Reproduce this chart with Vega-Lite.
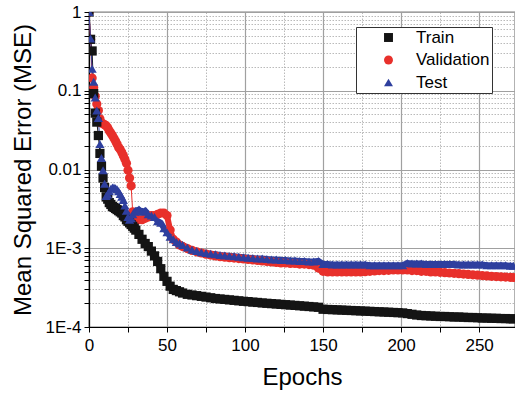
{
  "$schema": "https://vega.github.io/schema/vega-lite/v6.json",
  "width": 426,
  "height": 315,
  "autosize": {"type": "none"},
  "padding": {"left": 89, "top": 12, "right": 0, "bottom": 69},
  "background": "white",
  "config": {
    "font": "Liberation Sans",
    "view": {"stroke": "#000000", "strokeWidth": 1.2},
    "axis": {"labelFont": "Liberation Sans", "titleFont": "Liberation Sans", "labelColor": "#000000", "titleColor": "#000000", "titleFontWeight": "normal", "domainColor": "#000000", "domainWidth": 1.2, "tickColor": "#000000", "tickWidth": 1}
  },
  "data": {"values": [
    {"e":0,"Train":1,"Validation":1,"Test":1},
    {"e":1,"Train":0.45,"Validation":0.45,"Test":0.46},
    {"e":2,"Train":0.32,"Validation":0.145,"Test":0.19},
    {"e":3,"Train":0.092,"Validation":0.11,"Test":0.13},
    {"e":4,"Train":0.052,"Validation":0.085,"Test":0.082},
    {"e":5,"Train":0.04,"Validation":0.068,"Test":0.056},
    {"e":6,"Train":0.027,"Validation":0.056,"Test":0.045},
    {"e":7,"Train":0.016,"Validation":0.044,"Test":0.021},
    {"e":8,"Train":0.011,"Validation":0.039,"Test":0.014},
    {"e":9,"Train":0.0078,"Validation":0.038,"Test":0.0098},
    {"e":10,"Train":0.0059,"Validation":0.037,"Test":0.0066},
    {"e":11,"Train":0.0045,"Validation":0.036,"Test":0.0046},
    {"e":12,"Train":0.0042,"Validation":0.034,"Test":0.0048},
    {"e":13,"Train":0.0038,"Validation":0.031,"Test":0.0053},
    {"e":14,"Train":0.0036,"Validation":0.029,"Test":0.0057},
    {"e":15,"Train":0.0034,"Validation":0.027,"Test":0.0059},
    {"e":16,"Train":0.0033,"Validation":0.025,"Test":0.0059},
    {"e":17,"Train":0.0032,"Validation":0.023,"Test":0.0058},
    {"e":18,"Train":0.0031,"Validation":0.021,"Test":0.0056},
    {"e":19,"Train":0.003,"Validation":0.019,"Test":0.0053},
    {"e":20,"Train":0.0029,"Validation":0.018,"Test":0.0049},
    {"e":21,"Train":0.0028,"Validation":0.0165,"Test":0.0045},
    {"e":22,"Train":0.0026,"Validation":0.015,"Test":0.0041},
    {"e":23,"Train":0.0025,"Validation":0.0135,"Test":0.0035},
    {"e":24,"Train":0.0023,"Validation":0.012,"Test":0.003},
    {"e":25,"Train":0.0022,"Validation":0.0098,"Test":0.0025},
    {"e":26,"Train":0.0021,"Validation":0.0078,"Test":0.0023},
    {"e":27,"Train":0.002,"Validation":0.0062,"Test":0.0024},
    {"e":28,"Train":0.0019,"Validation":0.0029,"Test":0.0027},
    {"e":29,"Train":0.0018,"Validation":0.0026,"Test":0.0029},
    {"e":30,"Train":0.0017,"Validation":0.0024,"Test":0.003},
    {"e":32,"Train":0.0015,"Validation":0.0023,"Test":0.0031},
    {"e":34,"Train":0.0013,"Validation":0.0023,"Test":0.0029},
    {"e":36,"Train":0.00115,"Validation":0.0024,"Test":0.003},
    {"e":38,"Train":0.00105,"Validation":0.0025,"Test":0.0027},
    {"e":40,"Train":0.00092,"Validation":0.0026,"Test":0.0026},
    {"e":42,"Train":0.0008,"Validation":0.0026,"Test":0.0025},
    {"e":44,"Train":0.00068,"Validation":0.0027,"Test":0.0022},
    {"e":46,"Train":0.00055,"Validation":0.0028,"Test":0.0021},
    {"e":48,"Train":0.00044,"Validation":0.0028,"Test":0.0018},
    {"e":50,"Train":0.00038,"Validation":0.0026,"Test":0.0016},
    {"e":52,"Train":0.00033,"Validation":0.0017,"Test":0.0014},
    {"e":54,"Train":0.0003,"Validation":0.0013,"Test":0.0013},
    {"e":56,"Train":0.00029,"Validation":0.0012,"Test":0.0012},
    {"e":58,"Train":0.00028,"Validation":0.0011,"Test":0.00115},
    {"e":60,"Train":0.00027,"Validation":0.00105,"Test":0.0011},
    {"e":63,"Train":0.00026,"Validation":0.00099,"Test":0.00102},
    {"e":66,"Train":0.000255,"Validation":0.00094,"Test":0.00096},
    {"e":69,"Train":0.00025,"Validation":0.0009,"Test":0.00092},
    {"e":72,"Train":0.000245,"Validation":0.00087,"Test":0.00089},
    {"e":75,"Train":0.00024,"Validation":0.00084,"Test":0.00087},
    {"e":78,"Train":0.000235,"Validation":0.00082,"Test":0.00085},
    {"e":81,"Train":0.00023,"Validation":0.0008,"Test":0.00084},
    {"e":84,"Train":0.000227,"Validation":0.00078,"Test":0.00082},
    {"e":87,"Train":0.000224,"Validation":0.00077,"Test":0.00081},
    {"e":90,"Train":0.000221,"Validation":0.00076,"Test":0.0008},
    {"e":93,"Train":0.000218,"Validation":0.00075,"Test":0.00079},
    {"e":96,"Train":0.000215,"Validation":0.00074,"Test":0.00078},
    {"e":99,"Train":0.000212,"Validation":0.00073,"Test":0.00077},
    {"e":102,"Train":0.00021,"Validation":0.00072,"Test":0.00076},
    {"e":105,"Train":0.000207,"Validation":0.00071,"Test":0.00075},
    {"e":108,"Train":0.000205,"Validation":0.0007,"Test":0.00074},
    {"e":111,"Train":0.000202,"Validation":0.00069,"Test":0.00074},
    {"e":114,"Train":0.0002,"Validation":0.00068,"Test":0.00073},
    {"e":117,"Train":0.000198,"Validation":0.00067,"Test":0.00072},
    {"e":120,"Train":0.000196,"Validation":0.00066,"Test":0.00072},
    {"e":123,"Train":0.000194,"Validation":0.00065,"Test":0.00071},
    {"e":126,"Train":0.000192,"Validation":0.00065,"Test":0.00071},
    {"e":129,"Train":0.00019,"Validation":0.00064,"Test":0.0007},
    {"e":132,"Train":0.000188,"Validation":0.00064,"Test":0.0007},
    {"e":135,"Train":0.000186,"Validation":0.00063,"Test":0.00069},
    {"e":138,"Train":0.000184,"Validation":0.00063,"Test":0.00069},
    {"e":141,"Train":0.000182,"Validation":0.00062,"Test":0.00068},
    {"e":144,"Train":0.00018,"Validation":0.00061,"Test":0.00068},
    {"e":147,"Train":0.000178,"Validation":0.00056,"Test":0.00069},
    {"e":150,"Train":0.000168,"Validation":0.00051,"Test":0.00063},
    {"e":153,"Train":0.000167,"Validation":0.0005,"Test":0.00063},
    {"e":156,"Train":0.000166,"Validation":0.0005,"Test":0.00062},
    {"e":159,"Train":0.000165,"Validation":0.0005,"Test":0.00062},
    {"e":162,"Train":0.000164,"Validation":0.0005,"Test":0.00062},
    {"e":165,"Train":0.000163,"Validation":0.0005,"Test":0.00062},
    {"e":168,"Train":0.000162,"Validation":0.0005,"Test":0.00062},
    {"e":171,"Train":0.000161,"Validation":0.0005,"Test":0.00062},
    {"e":174,"Train":0.00016,"Validation":0.0005,"Test":0.00062},
    {"e":177,"Train":0.000159,"Validation":0.000505,"Test":0.00062},
    {"e":180,"Train":0.000158,"Validation":0.00051,"Test":0.00061},
    {"e":183,"Train":0.000157,"Validation":0.000515,"Test":0.00061},
    {"e":186,"Train":0.000156,"Validation":0.00052,"Test":0.00061},
    {"e":189,"Train":0.000155,"Validation":0.00052,"Test":0.00061},
    {"e":192,"Train":0.000154,"Validation":0.000525,"Test":0.00061},
    {"e":195,"Train":0.000153,"Validation":0.00053,"Test":0.00061},
    {"e":198,"Train":0.000152,"Validation":0.00053,"Test":0.00061},
    {"e":201,"Train":0.000151,"Validation":0.00053,"Test":0.00061},
    {"e":204,"Train":0.000148,"Validation":0.00053,"Test":0.00065},
    {"e":207,"Train":0.000145,"Validation":0.00052,"Test":0.00064},
    {"e":210,"Train":0.000142,"Validation":0.00052,"Test":0.00064},
    {"e":213,"Train":0.00014,"Validation":0.00051,"Test":0.00064},
    {"e":216,"Train":0.000139,"Validation":0.00051,"Test":0.00063},
    {"e":219,"Train":0.000138,"Validation":0.0005,"Test":0.00063},
    {"e":222,"Train":0.000137,"Validation":0.0005,"Test":0.00063},
    {"e":225,"Train":0.000136,"Validation":0.000495,"Test":0.00063},
    {"e":228,"Train":0.000136,"Validation":0.00049,"Test":0.00063},
    {"e":231,"Train":0.000135,"Validation":0.000485,"Test":0.00063},
    {"e":234,"Train":0.000134,"Validation":0.00048,"Test":0.00063},
    {"e":237,"Train":0.000134,"Validation":0.000475,"Test":0.00062},
    {"e":240,"Train":0.000133,"Validation":0.00047,"Test":0.00062},
    {"e":243,"Train":0.000132,"Validation":0.000465,"Test":0.00062},
    {"e":246,"Train":0.000132,"Validation":0.00046,"Test":0.00062},
    {"e":249,"Train":0.000131,"Validation":0.000455,"Test":0.00062},
    {"e":252,"Train":0.00013,"Validation":0.00045,"Test":0.00062},
    {"e":255,"Train":0.00013,"Validation":0.000445,"Test":0.00061},
    {"e":258,"Train":0.000129,"Validation":0.00044,"Test":0.00061},
    {"e":261,"Train":0.000129,"Validation":0.000437,"Test":0.00061},
    {"e":264,"Train":0.000128,"Validation":0.000434,"Test":0.00061},
    {"e":267,"Train":0.000128,"Validation":0.00043,"Test":0.00061},
    {"e":270,"Train":0.000127,"Validation":0.000428,"Test":0.0006},
    {"e":272,"Train":0.000127,"Validation":0.000425,"Test":0.0006}
  ]},
  "transform": [{"fold": ["Train", "Validation", "Test"], "as": ["series", "v"]}],
  "layer": [
    {
      "transform": [{"filter": "datum.series === 'Train'"}],
      "mark": {"type": "line", "strokeWidth": 1, "clip": true, "color": "#141414"},
      "encoding": {
        "x": {"field": "e", "type": "quantitative",
          "scale": {"domain": [0, 273], "nice": false, "zero": false},
          "axis": {
            "orient": "bottom",
            "values": [0, 25, 50, 75, 100, 125, 150, 175, 200, 225, 250],
            "labelExpr": "datum.value % 50 === 0 ? datum.label : ''",
            "labelFlush": false,
            "labelFontSize": 17,
            "labelPadding": 5,
            "tickSize": 5,
            "title": "Epochs",
            "titleFontSize": 24,
            "titlePadding": 12,
            "grid": true,
            "gridColor": {"condition": {"test": "datum.value % 50 === 0", "value": "#a0a0a0"}, "value": "#a8a8a8"},
            "gridDash": {"condition": {"test": "datum.value % 50 === 0", "value": []}, "value": [1.5, 1.5]},
            "gridWidth": {"condition": {"test": "datum.value % 50 === 0", "value": 1.2}, "value": 0.8}
          }
        },
        "y": {"field": "v", "type": "quantitative",
          "scale": {"type": "log", "domain": [0.0001, 1], "nice": false},
          "axis": {
            "values": [0.0001,0.0002,0.0003,0.0004,0.0005,0.0006,0.0007,0.0008,0.0009,0.001,0.002,0.003,0.004,0.005,0.006,0.007,0.008,0.009,0.01,0.02,0.03,0.04,0.05,0.06,0.07,0.08,0.09,0.1,0.2,0.3,0.4,0.5,0.6,0.7,0.8,0.9,1],
            "labelExpr": "datum.value === 1 ? '1' : datum.value === 0.1 ? '0.1' : datum.value === 0.01 ? '0.01' : datum.value === 0.001 ? '1E-3' : datum.value === 0.0001 ? '1E-4' : ''",
            "labelFontSize": 17,
            "labelPadding": 3,
            "tickSize": 5,
            "title": "Mean Squared Error (MSE)",
            "titleFontSize": 24,
            "titlePadding": 10,
            "grid": true,
            "gridColor": {"condition": {"test": "indexof([1,0.1,0.01,0.001,0.0001], datum.value) >= 0", "value": "#a0a0a0"}, "value": "#a8a8a8"},
            "gridDash": {"condition": {"test": "indexof([1,0.1,0.01,0.001,0.0001], datum.value) >= 0", "value": []}, "value": [1.5, 1.5]},
            "gridWidth": {"condition": {"test": "indexof([1,0.1,0.01,0.001,0.0001], datum.value) >= 0", "value": 1.2}, "value": 0.8}
          }
        }
      }
    },
    {
      "transform": [{"filter": "datum.series === 'Validation'"}],
      "mark": {"type": "line", "strokeWidth": 1, "clip": true, "color": "#e8302b"},
      "encoding": {"x": {"field": "e", "type": "quantitative"}, "y": {"field": "v", "type": "quantitative"}}
    },
    {
      "transform": [{"filter": "datum.series === 'Test'"}],
      "mark": {"type": "line", "strokeWidth": 1, "clip": true, "color": "#2e3f9e"},
      "encoding": {"x": {"field": "e", "type": "quantitative"}, "y": {"field": "v", "type": "quantitative"}}
    },
    {
      "transform": [{"filter": "datum.series === 'Train' && datum.e >= 30"}],
      "mark": {"type": "line", "strokeWidth": 6, "clip": true, "color": "#141414"},
      "encoding": {"x": {"field": "e", "type": "quantitative"}, "y": {"field": "v", "type": "quantitative"}}
    },
    {
      "transform": [{"filter": "datum.series === 'Validation' && datum.e >= 30"}],
      "mark": {"type": "line", "strokeWidth": 6, "clip": true, "color": "#e8302b"},
      "encoding": {"x": {"field": "e", "type": "quantitative"}, "y": {"field": "v", "type": "quantitative"}}
    },
    {
      "transform": [{"filter": "datum.series === 'Test' && datum.e >= 30"}],
      "mark": {"type": "line", "strokeWidth": 6, "clip": true, "color": "#2e3f9e"},
      "encoding": {"x": {"field": "e", "type": "quantitative"}, "y": {"field": "v", "type": "quantitative"}}
    },
    {
      "mark": {"type": "point", "filled": true, "opacity": 1, "size": 85, "clip": true},
      "encoding": {
        "x": {"field": "e", "type": "quantitative"},
        "y": {"field": "v", "type": "quantitative"},
        "order": {"field": "series", "sort": "descending"},
        "color": {"field": "series", "type": "nominal",
          "scale": {"domain": ["Train", "Validation", "Test"], "range": ["#141414", "#e8302b", "#2e3f9e"]},
          "legend": {
            "title": null, "orient": "none", "legendX": 267, "legendY": 15,
            "padding": 2, "symbolOffset": 22, "labelOffset": 19, "rowPadding": 4.5,
            "symbolSize": 80,
            "labelFontSize": 17, "labelFont": "Liberation Sans", "labelColor": "#000000",
            "strokeColor": "#333333", "fillColor": "#ffffff"
          }},
        "shape": {"field": "series", "type": "nominal",
          "scale": {"domain": ["Train", "Validation", "Test"], "range": ["square", "circle", "triangle-up"]},
          "legend": null}
      }
    }
  ]
}
